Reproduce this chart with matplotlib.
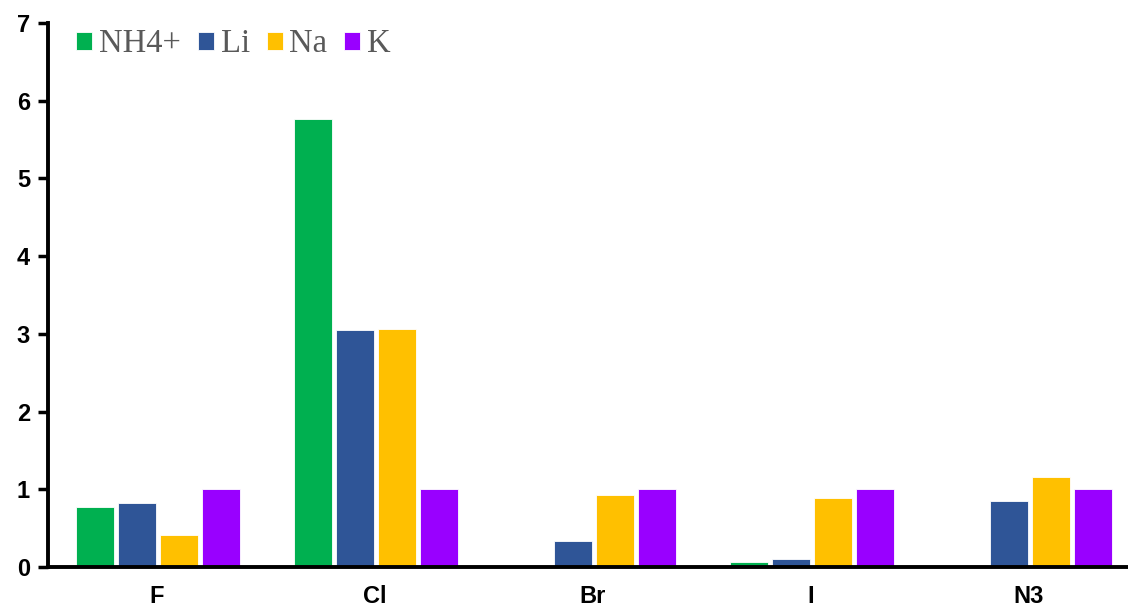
import matplotlib
matplotlib.use("Agg")
import matplotlib.pyplot as plt
import numpy as np

categories = ["F", "Cl", "Br", "I", "N3"]
series_names = ["NH4+", "Li", "Na", "K"]
nh4 = [0.77, 5.77, 0.0, 0.065, 0.0]
li = [0.82, 3.05, 0.34, 0.10, 0.85]
na = [0.41, 3.06, 0.93, 0.89, 1.16]
k = [1.0, 1.0, 1.0, 1.0, 1.0]
colors = ["#00B050", "#2F5597", "#FFC000", "#9900FF"]

fig = plt.figure(figsize=(11.28, 6.09), dpi=100)
ax = fig.add_axes([48/1128, 42/609, 1 - 48/1128, (567-23)/609])

x = np.arange(len(categories))
step = 0.193
width = 0.176
for i, (vals, name, c) in enumerate(zip([nh4, li, na, k], series_names, colors)):
    ax.bar(x + (i - 1.5) * step + 0.005, vals, width=width, color=c, label=name,
           edgecolor="white", linewidth=0.6, zorder=2)

ax.set_xlim(-0.5, -0.5 + 1080/218)
ax.set_ylim(0, 7)
ax.set_yticks(range(0, 8))
ax.set_xticks(x)
ax.set_xticklabels(categories)
for lab in ax.get_xticklabels() + ax.get_yticklabels():
    lab.set_fontfamily("Liberation Sans")
    lab.set_fontweight("bold")
    lab.set_fontsize(17)
ax.tick_params(axis="x", length=0, pad=13)
ax.tick_params(axis="y", length=7, width=2.5, direction="out", pad=6)
for s in ["top", "right"]:
    ax.spines[s].set_visible(False)
for s in ["left", "bottom"]:
    ax.spines[s].set_linewidth(2.8)
    ax.spines[s].set_color("black")

leg = ax.legend(loc="upper left", bbox_to_anchor=(76/1128, 1 - 29/609),
                bbox_transform=fig.transFigure, ncol=4, frameon=False,
                prop={"family": "Liberation Serif", "size": 23.5},
                handlelength=0.49, handleheight=0.49, handletextpad=0.21,
                columnspacing=0.52, borderaxespad=0, borderpad=0)
for t in leg.get_texts():
    t.set_color("#595959")

fig.savefig("out.png", dpi=100)
